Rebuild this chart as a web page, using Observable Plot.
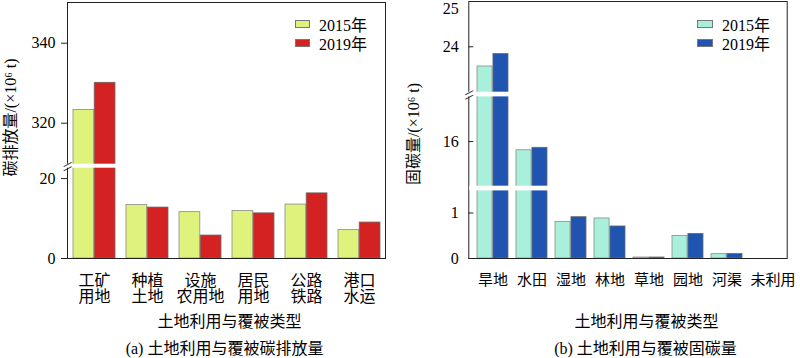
<!DOCTYPE html>
<html>
<head>
<meta charset="utf-8">
<script src="https://cdn.jsdelivr.net/npm/d3@7"></script>
<script src="https://cdn.jsdelivr.net/npm/@observablehq/plot@0.6"></script>
<style>
  body { margin: 0; background: #fff; }
  #wrap { display: flex; width: 800px; height: 358px; }
  .panel { position: relative; width: 400px; height: 358px; }
  .item { position: absolute; display: flex; align-items: center; height: 16px; white-space: nowrap;
          font: 16px "Liberation Serif", "Noto Sans CJK SC", serif; color: #000; }
  .sw { box-sizing: border-box; height: 8px; border: 1px solid #777; margin-right: 9px; }
</style>
</head>
<body>
<div id="wrap"><div class="panel" id="pa"></div><div class="panel" id="pb"></div></div>
<script>
// ---------- data ----------
const years = ["2015年", "2019年"];

// (a) carbon emission, ×10^6 t
const catsA = ["工矿用地", "种植土地", "设施农用地", "居民用地", "公路铁路", "港口水运"];
const tickLabelsA = ["工矿\n用地", "种植\n土地", "设施\n农用地", "居民\n用地", "公路\n铁路", "港口\n水运"];
const emis2015 = [323.3, 13.4, 11.6, 11.9, 13.5, 7.1];
const emis2019 = [330.1, 12.75, 5.75, 11.3, 16.3, 9.0];
const yTicksA = [0, 20, 320, 340];
const yBreakDomainA = [0, 22.6, 309.75, 350.25];
const gapsA = [[22.6, 309.75]];
const colorsA = ["#dff27c", "#d42222"];

// (b) carbon sequestration, ×10^6 t
const catsB = ["旱地", "水田", "湿地", "林地", "草地", "园地", "河渠", "未利用"];
const tickLabelsB = ["旱地", "水田", "湿地", "林地", "草地", "园地", "河渠", "未利用"];
const seq2015 = [23.51, 15.61, 0.805, 0.88, 0.022, 0.497, 0.095, 0];
const seq2019 = [23.82, 15.72, 0.908, 0.704, 0.022, 0.541, 0.10, 0];
const yTicksB = [0, 1, 16, 24, 25];
const yTickMarksB = [0, 1, 16, 24];
const yBreakDomainB = [0, 1.486, 14, 18, 22.87, 25.134];
const gapsB = [[1.486, 14], [18, 22.87]];
const colorsB = ["#a8f0dc", "#1f55b0"];

const yTitleA = "碳排放量/(×10⁶ t)";
const yTitleB = "固碳量/(×10⁶ t)";
const xTitle = "土地利用与覆被类型";
const captionA = "(a) 土地利用与覆被碳排放量";
const captionB = "(b) 土地利用与覆被固碳量";

// ---------- drawing ----------
const W = 400, H = 358, MB = 100;
const FONT = '"Liberation Serif", "Noto Sans CJK SC", serif';

function makePanel(o) {
  const frameW = W - o.ml - o.mr;
  const frameH = H - MB - o.mt;
  const bw = 0.8 * frameW / o.cats.length;
  // broken-axis transform: data value -> position along the (compressed) axis
  const brk = d3.scaleLinear().domain(o.yDomain).range(o.segLen);
  const rows = o.cats.map((c, i) => ({cat: c, v15: o.v15[i], v19: o.v19[i]}));
  const mid = (g) => (g[0] + g[1]) / 2;
  const cutGaps = o.gaps.filter((g, i) => o.cut[i]);
  const keepGaps = o.gaps.filter((g, i) => !o.cut[i]);
  const tickMarks = o.tickMarks || o.yTicks;
  const nearTop = t => brk(t) > frameH - 8;
  const fmtX = c => o.labels[o.cats.indexOf(c)];
  const shifted = o.shiftLast ? o.cats.slice(-1) : [];
  const normal = o.cats.filter(c => !shifted.includes(c));
  const yLabelOpts = {y: d => d, text: d => String(d), frameAnchor: "left", textAnchor: "end", lineAnchor: "middle", dx: o.tickOut ? -12 : -10, fontSize: 16};
  const marks = [
    Plot.rectY(rows, {x: "cat", y1: () => 0, y2: "v15", insetRight: bw / 2, fill: o.colors[0], stroke: "#8a8a8a", strokeWidth: 0.8}),
    Plot.rectY(rows, {x: "cat", y1: () => 0, y2: "v19", insetLeft: bw / 2, fill: o.colors[1], stroke: "#6a6a6a", strokeWidth: 0.8}),
    Plot.frame({stroke: "#222", strokeWidth: 1}),
    Plot.rect(keepGaps, {y1: d => d[0], y2: d => d[1], fill: "white", insetLeft: 1, insetRight: 1}),
    Plot.rect(cutGaps, {y1: d => d[0], y2: d => d[1], fill: "white", insetLeft: -5, insetRight: 1}),
    Plot.text(cutGaps, {y: mid, text: () => "—", frameAnchor: "left", textAnchor: "middle", lineAnchor: "middle", rotate: -28, dy: -2.2, fontSize: 10, fill: "#222", fontFamily: "DejaVu Sans"}),
    Plot.text(cutGaps, {y: mid, text: () => "—", frameAnchor: "left", textAnchor: "middle", lineAnchor: "middle", rotate: -28, dy: 2.2, fontSize: 10, fill: "#222", fontFamily: "DejaVu Sans"}),
    // y ticks (through the y scale, so the break transform applies)
    o.tickOut
      ? Plot.ruleY(tickMarks, {y: d => d, insetLeft: -6, insetRight: frameW, stroke: "#222"})
      : Plot.ruleY(tickMarks, {y: d => d, insetRight: frameW - 5, stroke: "#222"}),
    Plot.text(o.yTicks.filter(t => !nearTop(t)), yLabelOpts),
    Plot.text(o.yTicks.filter(nearTop), {...yLabelOpts, dy: 2.5}),
    Plot.axisX({ticks: normal, tickSize: 0, tickPadding: 16, tickFormat: fmtX, label: null, lineHeight: 1, fontSize: o.xFont}),
    Plot.text([o.yTitle], {text: d => d, frameAnchor: "left", textAnchor: "middle", lineAnchor: "middle", rotate: -90, dx: o.ytDx, dy: o.ytDy, fontSize: 16}),
    Plot.text([xTitle], {text: d => d, frameAnchor: "bottom", textAnchor: "middle", lineAnchor: "middle", dx: o.xtDx, dy: 63.7, fontSize: 16}),
    Plot.text([o.caption], {text: d => d, frameAnchor: "bottom", textAnchor: "middle", lineAnchor: "middle", dx: o.capDx, dy: 90, fontSize: 16})
  ];
  if (shifted.length) {
    marks.push(Plot.axisX({ticks: shifted, tickSize: 0, tickPadding: 16, tickFormat: fmtX, label: null, lineHeight: 1, fontSize: o.xFont, dx: 7}));
  }
  const chart = Plot.plot({
    width: W, height: H,
    marginLeft: o.ml, marginRight: o.mr, marginTop: o.mt, marginBottom: MB,
    x: {domain: o.cats, paddingInner: 0.2, paddingOuter: 0.1, align: 0.6},
    y: {transform: brk, domain: [0, frameH], axis: null},
    style: {fontSize: "16px", fontFamily: FONT, color: "#000", background: "#fff", overflow: "visible"},
    marks
  });
  const host = document.getElementById(o.id);
  host.appendChild(chart);
  years.forEach((y, i) => {
    const it = document.createElement("div");
    it.className = "item";
    it.style.left = o.legLeft + "px";
    it.style.top = (16 + i * 19) + "px";
    const sw = document.createElement("div");
    sw.className = "sw";
    sw.style.width = o.swW + "px";
    sw.style.background = o.colors[i];
    it.appendChild(sw);
    it.appendChild(document.createTextNode(y));
    host.appendChild(it);
  });
}

makePanel({
  id: "pa", cats: catsA, labels: tickLabelsA, v15: emis2015, v19: emis2019, colors: colorsA,
  yDomain: yBreakDomainA, segLen: [0, 90.3, 94.3, 256.3], yTicks: yTicksA, tickOut: true,
  gaps: gapsA, cut: [true],
  ml: 67, mr: 15, mt: 2, xFont: 16, shiftLast: false,
  yTitle: yTitleA, ytDx: -57, ytDy: -13, xtDx: 3, capDx: -2, caption: captionA,
  legLeft: 295, swW: 15
});

makePanel({
  id: "pb", cats: catsB, labels: tickLabelsB, v15: seq2015, v19: seq2019, colors: colorsB,
  yDomain: yBreakDomainB, segLen: [0, 67.6, 72.3, 161.6, 166.3, 257.3], yTicks: yTicksB, tickMarks: yTickMarksB, tickOut: false,
  gaps: gapsB, cut: [false, true],
  ml: 68.3, mr: 13.3, mt: 1, xFont: 15, shiftLast: true,
  yTitle: yTitleB, ytDx: -55, ytDy: 4, xtDx: 18.5, capDx: 17.5, caption: captionB,
  legLeft: 297, swW: 16
});
</script>
</body>
</html>
